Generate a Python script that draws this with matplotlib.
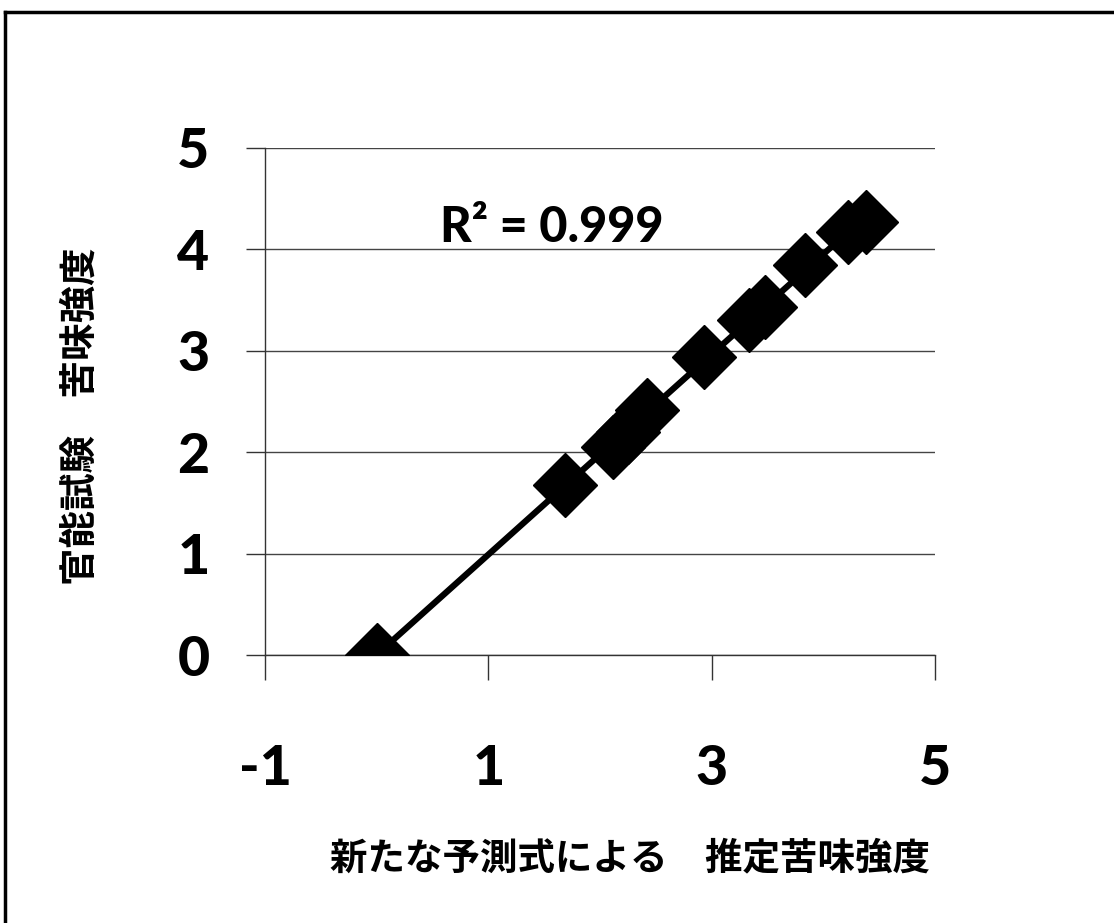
import numpy as np
import matplotlib.pyplot as plt
from matplotlib.lines import Line2D

plt.rcParams["font.family"] = ["Lato", "Noto Sans CJK JP", "DejaVu Sans"]
plt.rcParams["axes.unicode_minus"] = False

# estimated vs. sensory bitterness intensity
pred = [0.0, 1.69, 2.12, 2.25, 2.42, 2.93, 3.33, 3.48, 3.84, 4.22, 4.38]
sensory = [0.0, 1.68, 2.05, 2.20, 2.42, 2.94, 3.30, 3.43, 3.85, 4.17, 4.27]
r2_text = "R² = 0.999"
xlabel = "新たな予測式による\u3000推定苦味強度"
ylabel = "官能試験\u3000苦味強度"
xticks = [-1, 1, 3, 5]
yticks = [0, 1, 2, 3, 4, 5]

fig = plt.figure(figsize=(11.14, 9.23), dpi=100)
ax = fig.add_axes([265 / 1114, 1 - 655 / 923, 670 / 1114, 507 / 923])

# linear trendline over the data range
slope, icpt = np.polyfit(pred, sensory, 1)
xs = np.array([min(pred), max(pred)])
ax.plot(xs, slope * xs + icpt, color="black", lw=4.5, zorder=3, solid_capstyle="butt")
ax.plot(pred, sensory, linestyle="none", marker="D", ms=33, color="black", zorder=4)

ax.set_xlim(-1, 5)
ax.set_ylim(0, 5)
ax.set_xticks(xticks)
ax.set_yticks(yticks)
ax.yaxis.grid(True, color="#444444", lw=1.0)
ax.set_axisbelow(True)
for s in ("top", "right"):
    ax.spines[s].set_visible(False)
for s in ("left", "bottom"):
    ax.spines[s].set_color("#333333")
    ax.spines[s].set_linewidth(1.0)

ax.tick_params(axis="x", direction="out", length=18, width=1, color="#333333",
               pad=46, labelsize=40)
ax.tick_params(axis="y", direction="out", length=14, width=1, color="#333333",
               pad=26, labelsize=40)
for lab in ax.get_xticklabels() + ax.get_yticklabels():
    lab.set_fontweight(900)

ax.text(1.57, 4.22, r2_text, ha="center", va="center", fontsize=35,
        fontweight=900)

ax.set_xlabel(xlabel, fontsize=27, fontweight="bold")
ax.xaxis.set_label_coords(0.545, -0.365)
ax.set_ylabel(ylabel, fontsize=27, fontweight="bold")
ax.yaxis.set_label_coords(-0.25, 0.47)

# frame lines at the left and top of the sheet
fig.add_artist(Line2D([5 / 1114, 5 / 1114], [0, 1 - 12 / 923], color="black", lw=2.5))
fig.add_artist(Line2D([5 / 1114, 1], [1 - 12 / 923, 1 - 12 / 923], color="black", lw=2.5))

fig.savefig("out.png", dpi=100)
